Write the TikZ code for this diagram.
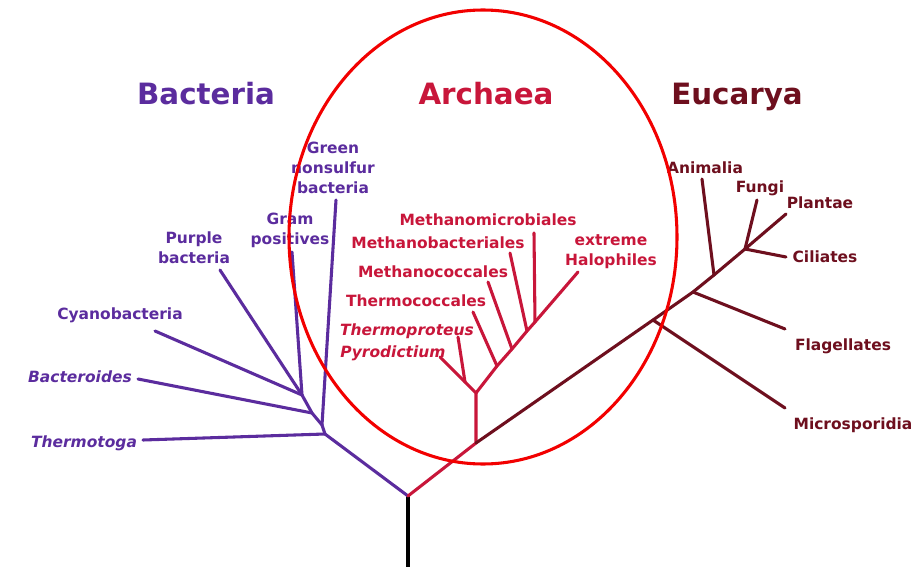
\documentclass[tikz,border=0pt]{standalone}
\usepackage{fontspec}
\setmainfont{DejaVu Sans}
\usetikzlibrary{positioning}
\definecolor{Bact}{HTML}{5B2C9E}
\definecolor{Arch}{HTML}{C8163A}
\definecolor{Euca}{HTML}{6E0F1E}
\definecolor{Ring}{HTML}{F20000}

\begin{document}
\begin{tikzpicture}[x=0.75pt,y=-0.75pt,
  lbl/.style={font=\fontsize{11.6}{15}\selectfont\bfseries,align=center,inner sep=0pt},
  ital/.style={lbl,font=\fontsize{11.6}{15}\selectfont\bfseries\itshape},
  ttl/.style={font=\fontsize{22}{26}\selectfont\bfseries,inner sep=0pt,anchor=base},
  br/.style={line width=2.3pt,line cap=round,line join=round}]
  \useasboundingbox[fill=white] (0,0) rectangle (918,567);

  % junctions
  \coordinate (root) at (408,496);
  \coordinate (bot)  at (408,567);
  \coordinate (b1) at (325,434);
  \coordinate (b2) at (322,425);
  \coordinate (b3) at (312,413);
  \coordinate (b4) at (302,395);
  \coordinate (a1) at (476,443);
  \coordinate (a2) at (476,393);
  \coordinate (a3) at (465,382);
  \coordinate (a4) at (497,366);
  \coordinate (a5) at (512,349);
  \coordinate (a6) at (527,331);
  \coordinate (a7) at (535,322);
  \coordinate (e1) at (653,320);
  \coordinate (e2) at (693,292);
  \coordinate (e3) at (714,275);
  \coordinate (e4) at (745,249);

  % branch ends
  \coordinate (tmt) at (143,440);
  \coordinate (grn) at (336,200);
  \coordinate (bcd) at (138,379);
  \coordinate (cya) at (155,331);
  \coordinate (pur) at (220,270);
  \coordinate (grm) at (292,252);
  \coordinate (tpr) at (458,337);
  \coordinate (pyr) at (440,357);
  \coordinate (tcc) at (473,312);
  \coordinate (mcc) at (488,282);
  \coordinate (mbc) at (510,253);
  \coordinate (mmb) at (534,233);
  \coordinate (hal) at (578,272);
  \coordinate (mic) at (785,408);
  \coordinate (fla) at (785,329);
  \coordinate (ani) at (702,179);
  \coordinate (fun) at (757,200);
  \coordinate (pla) at (786,214);
  \coordinate (cil) at (786,257);

  % titles
  \node[ttl,text=Bact] (tBact) at (206,104) {Bacteria};
  \node[ttl,text=Arch] (tArch) at (486,104) {Archaea};
  \node[ttl,text=Euca] (tEuca) at (737,104) {Eucarya};

  % bacteria
  \draw[br,black] (root) -- (bot);
  \draw[br,Bact] (root) -- (b1) -- (b2) -- (b3) -- (b4);
  \draw[br,Bact] (b1) -- (tmt);
  \draw[br,Bact] (b2) -- (grn);
  \draw[br,Bact] (b3) -- (bcd);
  \draw[br,Bact] (b4) -- (cya);
  \draw[br,Bact] (b4) -- (pur);
  \draw[br,Bact] (b4) -- (grm);
  \node[ital,text=Bact] (lTmt) at (84,443) {Thermotoga};
  \node[ital,text=Bact] (lBcd) at (80,377) {Bacteroides};
  \node[lbl,text=Bact] (lCya) at (120,315) {Cyanobacteria};
  \node[lbl,text=Bact] (lPur) at (194,248) {Purple\\bacteria};
  \node[lbl,text=Bact] (lGrm) at (290,230) {Gram\\positives};
  \node[lbl,text=Bact] (lGrn) at (333,168) {Green\\nonsulfur\\bacteria};

  % archaea
  \draw[br,Arch] (root) -- (a1) -- (a2) -- (a3);
  \draw[br,Arch] (a3) -- (tpr);
  \draw[br,Arch] (a3) -- (pyr);
  \draw[br,Arch] (a2) -- (a4) -- (a5) -- (a6) -- (a7) -- (hal);
  \draw[br,Arch] (a4) -- (tcc);
  \draw[br,Arch] (a5) -- (mcc);
  \draw[br,Arch] (a6) -- (mbc);
  \draw[br,Arch] (a7) -- (mmb);
  \node[ital,text=Arch] (lTpr) at (407,331) {Thermoproteus};
  \node[ital,text=Arch] (lPyr) at (393,353) {Pyrodictium};
  \node[lbl,text=Arch] (lTcc) at (416,301) {Thermococcales};
  \node[lbl,text=Arch] (lMcc) at (433,272) {Methanococcales};
  \node[lbl,text=Arch] (lMbc) at (438,243) {Methanobacteriales};
  \node[lbl,text=Arch] (lMmb) at (488,220) {Methanomicrobiales};
  \node[lbl,text=Arch] (lHal) at (611,252) {extreme\\Halophiles};

  % eucarya
  \draw[br,Euca] (a1) -- (e1) -- (e2) -- (e3) -- (e4);
  \draw[br,Euca] (e1) -- (mic);
  \draw[br,Euca] (e2) -- (fla);
  \draw[br,Euca] (e3) -- (ani);
  \draw[br,Euca] (e4) -- (fun);
  \draw[br,Euca] (e4) -- (pla);
  \draw[br,Euca] (e4) -- (cil);
  \node[lbl,text=Euca] (lMic) at (853,425) {Microsporidia};
  \node[lbl,text=Euca] (lFla) at (843,346) {Flagellates};
  \node[lbl,text=Euca] (lCil) at (825,257) {Ciliates};
  \node[lbl,text=Euca] (lPla) at (820,203) {Plantae};
  \node[lbl,text=Euca] (lFun) at (760,188) {Fungi};
  \node[lbl,text=Euca] (lAni) at (705,168) {Animalia};

  % archaea ring
  \draw[Ring,line width=2.3pt] (483,237) ellipse (194 and 227);
\end{tikzpicture}
\end{document}
